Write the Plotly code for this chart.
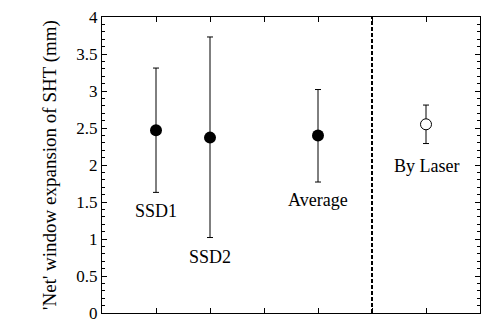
import plotly.graph_objects as go

labels = ["SSD1", "SSD2", "Average"]
xpos = [1, 2, 4]
values = [2.47, 2.37, 2.40]
err_hi = [3.31, 3.73, 3.02]
err_lo = [1.63, 1.02, 1.77]

laser_x = [6]
laser_val = [2.55]
laser_hi = [2.81]
laser_lo = [2.29]

label_y = [1.38, 0.76, 1.53]
laser_label_y = 1.98

ytick_vals = [0, 0.5, 1, 1.5, 2, 2.5, 3, 3.5, 4]
ytick_text = ["0", "0.5", "1", "1.5", "2", "2.5", "3", "3.5", "4"]

SERIF = '"Liberation Serif", "Times New Roman", Times, serif'

fig = go.Figure()
fig.add_trace(go.Scatter(
    x=xpos, y=values, mode="markers",
    marker=dict(color="black", size=12),
    error_y=dict(type="data", symmetric=False,
                 array=[h - v for h, v in zip(err_hi, values)],
                 arrayminus=[v - l for l, v in zip(err_lo, values)],
                 color="black", thickness=1, width=3),
    showlegend=False))
fig.add_trace(go.Scatter(
    x=laser_x, y=laser_val, mode="markers",
    marker=dict(color="white", size=11, line=dict(color="black", width=1)),
    error_y=dict(type="data", symmetric=False,
                 array=[h - v for h, v in zip(laser_hi, laser_val)],
                 arrayminus=[v - l for l, v in zip(laser_lo, laser_val)],
                 color="black", thickness=1, width=3),
    showlegend=False))

font = dict(family=SERIF, size=18, color="black")
for x, y, t in zip(xpos, label_y, labels):
    fig.add_annotation(x=x, y=y, text=t, showarrow=False, font=font)
fig.add_annotation(x=laser_x[0], y=laser_label_y, text="By Laser", showarrow=False, font=font)

fig.add_shape(type="line", x0=5, x1=5, y0=0, y1=4, xref="x", yref="y",
              line=dict(color="black", width=2, dash="4px,2px"))

fig.update_layout(
    width=483, height=324,
    margin=dict(l=102, r=3, t=17, b=11, autoexpand=False),
    plot_bgcolor="white", paper_bgcolor="white",
    font=font,
    xaxis=dict(range=[0, 7], tickvals=[1, 2, 3, 4, 5, 6], showticklabels=False,
               ticks="inside", ticklen=5, tickcolor="black", showgrid=False,
               zeroline=False, showline=True, linecolor="black", linewidth=1,
               mirror="ticks", automargin=False),
    yaxis=dict(range=[0, 4], tickvals=ytick_vals, ticktext=ytick_text,
               ticks="inside", ticklen=5, ticklabeloverflow="allow",
               automargin=False,
               tickcolor="black", showgrid=False, zeroline=False, showline=True,
               linecolor="black", linewidth=1, mirror="ticks",
               tickfont=dict(family=SERIF, size=17, color="black"),
               title=dict(text="'Net' window expansion of SHT (mm)",
                          font=dict(family=SERIF, size=19, color="black"),
                          standoff=14),
               minor=dict(tickvals=[i / 10 for i in range(41)], ticks="inside",
                          ticklen=3, tickcolor="black")),
)
fig.write_html("out.html")
